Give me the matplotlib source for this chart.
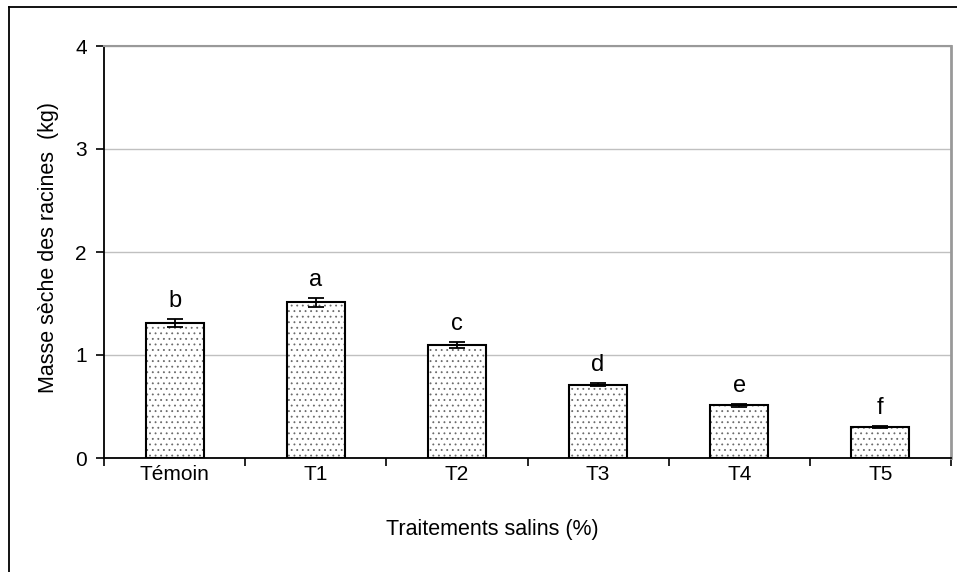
import numpy as np
import matplotlib as mpl
mpl.use('Agg')
import matplotlib.pyplot as plt
from matplotlib.lines import Line2D

mpl.rcParams['font.family'] = ['Liberation Sans', 'DejaVu Sans']
mpl.rcParams['hatch.linewidth'] = 0.6

# data
categories = ['Témoin', 'T1', 'T2', 'T3', 'T4', 'T5']
masse = [1.31, 1.51, 1.10, 0.71, 0.51, 0.30]
erreur = [0.04, 0.04, 0.03, 0.015, 0.01, 0.01]
lettres = ['b', 'a', 'c', 'd', 'e', 'f']
yticks = [0, 1, 2, 3, 4]

W, H = 957, 572
fig = plt.figure(figsize=(W / 100, H / 100), dpi=100)
ax = fig.add_axes([104 / W, 1 - 458 / H, (951 - 104) / W, (458 - 46) / H])

x = np.arange(len(categories))
bw = 0.41

# dotted fill (grey dots), then black outline on top
ax.bar(x, masse, bw, color='white', edgecolor='#6a6a6a', linewidth=0,
       hatch='...', zorder=2)
ax.bar(x, masse, bw, facecolor='none', edgecolor='black', linewidth=1.5,
       zorder=3)
ax.errorbar(x, masse, yerr=erreur, fmt='none', ecolor='black',
            elinewidth=1.3, capsize=5.5, capthick=1.3, zorder=4)

for xi, v, e, l in zip(x, masse, erreur, lettres):
    ax.annotate(l, (xi, v + e), xytext=(0, 5), textcoords='offset points',
                ha='center', va='bottom', fontsize=17)

ax.set_xlim(-0.5, len(categories) - 0.5)
ax.set_ylim(0, 4)
ax.set_yticks(yticks)
ax.set_yticklabels([str(t) for t in yticks])
ax.yaxis.grid(True, color='#c0c0c0', linewidth=1)
ax.set_axisbelow(True)

ax.set_xticks(x)
ax.set_xticklabels(categories)
ax.set_xticks(np.arange(len(categories) + 1) - 0.5, minor=True)
ax.tick_params(axis='x', which='major', length=0, pad=5, labelsize=15)
ax.tick_params(axis='x', which='minor', length=6, width=1.2, direction='out')
ax.tick_params(axis='y', length=6, width=1.2, direction='out', pad=6.5,
               labelsize=15)

for s in ['left', 'bottom']:
    ax.spines[s].set_color('black')
    ax.spines[s].set_linewidth(1.3)
ax.spines['top'].set_color('#999999')
ax.spines['top'].set_linewidth(1.5)
ax.spines['right'].set_color('#999999')
ax.spines['right'].set_linewidth(2)

fig.text(49 / W, 1 - 247 / H, 'Masse sèche des racines  (kg)', rotation=90,
         ha='center', va='center', fontsize=15.5)
fig.text(492 / W, 1 - 530 / H, 'Traitements salins (%)', ha='center',
         va='center', fontsize=15.5)

# outer chart frame (left and top edges visible)
fig.add_artist(Line2D([8.5 / W, 8.5 / W], [0, 1 - 6.5 / H], color='black',
                      linewidth=1.3, transform=fig.transFigure))
fig.add_artist(Line2D([8.5 / W, 1], [1 - 6.5 / H, 1 - 6.5 / H], color='black',
                      linewidth=1.3, transform=fig.transFigure))

fig.savefig('out.png', dpi=100)
